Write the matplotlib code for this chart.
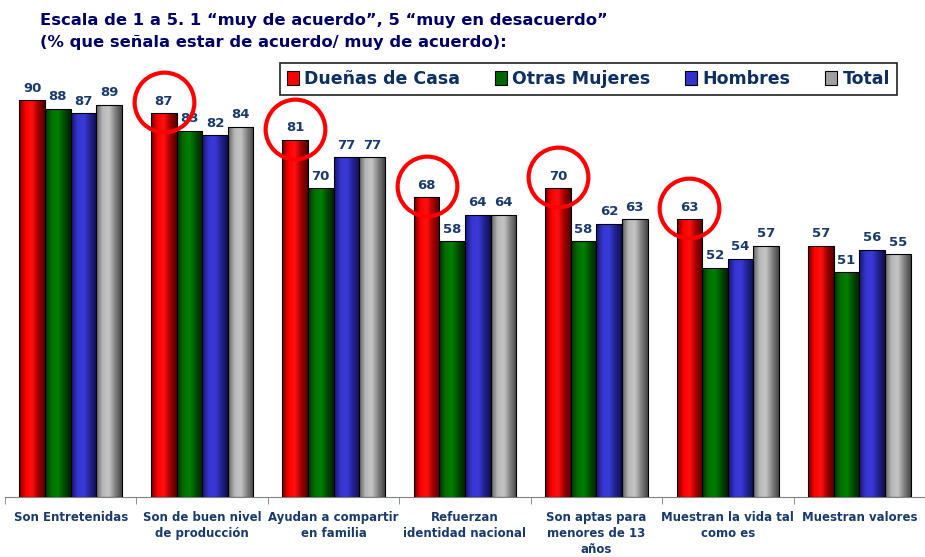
import matplotlib
matplotlib.use("Agg")
import matplotlib.pyplot as plt
import numpy as np
from matplotlib.colors import LinearSegmentedColormap
from matplotlib.patches import Patch

# data
categorias = ["Son Entretenidas", "Son de buen nivel\nde producción", "Ayudan a compartir\nen familia",
              "Refuerzan\nidentidad nacional", "Son aptas para\nmenores de 13\naños",
              "Muestran la vida tal\ncomo es", "Muestran valores"]
duenas = [90, 87, 81, 68, 70, 63, 57]
otras = [88, 83, 70, 58, 58, 52, 51]
hombres = [87, 82, 77, 64, 62, 54, 56]
total = [89, 84, 77, 64, 63, 57, 55]
marcados = [1, 2, 3, 4, 5]   # grupos con circulo rojo

series = [("Dueñas de Casa", duenas, ["#700000", "#ff0000", "#ff1010", "#a00000", "#500000"], "#ff0000"),
          ("Otras Mujeres", otras, ["#003000", "#007000", "#008000", "#004a00", "#002000"], "#006600"),
          ("Hombres", hombres, ["#15156a", "#3535d0", "#3a3ad8", "#222290", "#101050"], "#3333cc"),
          ("Total", total, ["#606060", "#b8b8b8", "#c4c4c4", "#808080", "#454545"], "#a0a0a0")]

navy = "#1a3a6b"

fig = plt.figure(figsize=(9.25, 5.57), dpi=100)
ax = fig.add_axes([5 / 925, 60 / 557, 920 / 925, 441 / 557])

x = np.arange(len(categorias))
w = 0.195
grad = np.linspace(0, 1, 64).reshape(1, -1)

handles = []
for i, (nombre, vals, cols, base) in enumerate(series):
    bars = ax.bar(x + (i - 1.5) * w, vals, w, color="none", edgecolor="black", linewidth=0.8,
                  zorder=3)
    handles.append(Patch(facecolor=base, edgecolor="black", linewidth=0.8, label=nombre))
    cmap = LinearSegmentedColormap.from_list(nombre, cols)
    for b in bars:
        im = ax.imshow(grad, extent=[b.get_x(), b.get_x() + b.get_width(), 0, b.get_height()],
                       aspect="auto", cmap=cmap, zorder=2)
        im.set_clip_path(b)
        ax.annotate(str(int(b.get_height())), (b.get_x() + b.get_width() / 2, b.get_height()),
                    xytext=(0, 4), textcoords="offset points", ha="center", va="bottom",
                    fontsize=9.5, fontweight="bold", color=navy, zorder=5)

# circulos rojos sobre Dueñas de Casa
for g in marcados:
    ax.plot(x[g] - 1.5 * w, duenas[g] + 2.5, marker="o", markersize=43, markerfacecolor="none",
            markeredgecolor="#ff0000", markeredgewidth=3, zorder=6, clip_on=False)

ax.set_xlim(-0.5, 6.417)
ax.set_ylim(0, 100)
for s in ["top", "right", "left"]:
    ax.spines[s].set_visible(False)
ax.spines["bottom"].set_color("#808080")
ax.set_yticks([])
ax.set_xticks(x)
ax.set_xticklabels(categorias, fontsize=8.5, fontweight="bold", color=navy, linespacing=1.32)
ax.tick_params(axis="x", which="major", length=0, pad=10)
ax.set_xticks(np.arange(-0.5, 7, 1), minor=True)
ax.tick_params(axis="x", which="minor", length=5, color="#808080")

leg = ax.legend(handles=handles, loc="upper right", bbox_to_anchor=(897 / 925, 1 - 63 / 557),
                bbox_transform=fig.transFigure, borderaxespad=0, ncol=4, fancybox=False,
                framealpha=1, edgecolor="#222222", handlelength=0.7, handleheight=0.9,
                handletextpad=0.3, columnspacing=2.0, borderpad=0.4,
                prop={"size": 12.5, "weight": "bold"})
for t in leg.get_texts():
    t.set_color("#0d3060")
leg.get_frame().set_linewidth(1.2)

fig.text(40 / 925, 1 - 20 / 557, "Escala de 1 a 5. 1 “muy de acuerdo”, 5 “muy en desacuerdo”",
         fontsize=11.8, fontweight="bold", color="#000066", va="center")
fig.text(40 / 925, 1 - 43 / 557, "(% que señala estar de acuerdo/ muy de acuerdo):",
         fontsize=11.8, fontweight="bold", color="#000066", va="center")

fig.savefig("out.png", dpi=100)
